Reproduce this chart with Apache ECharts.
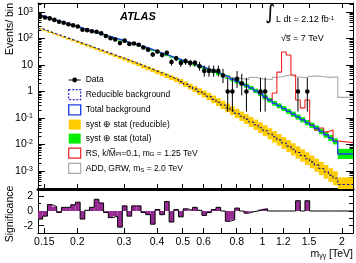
<!DOCTYPE html>
<html>
<head>
<meta charset="utf-8">
<script src="https://cdn.jsdelivr.net/npm/echarts@6/dist/echarts.min.js"></script>
<style>
  html, body { margin: 0; padding: 0; background: #fff; }
  #main { width: 356px; height: 263px; }
</style>
</head>
<body>
<div id="main"></div>
<script>
// bin edges of m_yy in TeV
var binEdges = [0.142, 0.1479, 0.1541, 0.1605, 0.1671, 0.1741, 0.1813, 0.1889, 0.1967, 0.2049,
  0.2134, 0.2223, 0.2316, 0.2412, 0.2512, 0.2617, 0.2725, 0.2839, 0.2957, 0.308,
  0.3208, 0.3341, 0.348, 0.3625, 0.3776, 0.3933, 0.4096, 0.4267, 0.4444, 0.4629,
  0.4821, 0.5022, 0.5231, 0.5448, 0.5675, 0.5911, 0.6157, 0.6413, 0.668, 0.6957,
  0.7247, 0.7548, 0.7862, 0.8189, 0.8529, 0.8884, 0.9254, 0.9638, 1.0039, 1.0457,
  1.0892, 1.1345, 1.1816, 1.2308, 1.282, 1.3353, 1.3908, 1.4486, 1.5089, 1.5716,
  1.637, 1.7051, 1.776, 1.8499, 1.9268, 2.2];

// observed events per bin
var dataCounts = [695, 619, 574, 504, 427, 391, 347, 314, 285, 215,
  207, 189, 181, 156, 124, 102, 92, 67, 83, 62,
  65, 58, 46, 38, 25, 32, 24, 29, 13, 18,
  12, 14, 12, 12, 9, 6, 6, 6, 6, 4,
  1, 1, 3, 2, 1, 0, 0, 1, 1, 0,
  0, 0, 0, 0, 0, 1, 0, 1, 0, 0,
  0, 0, 0, 0, 0];

var totalBkg = [725, 637, 554, 491, 431, 381, 338, 299, 265, 232,
  206, 182, 161, 143, 126, 112, 99, 88, 77, 68,
  60, 53, 47, 41, 35.6, 30.7, 26.5, 23.0, 19.9, 17.3,
  15.0, 13.1, 11.7, 10.2, 8.8, 7.6, 6.6, 5.6, 4.8, 4.05,
  3.47, 2.88, 2.40, 2.00, 1.67, 1.36, 1.05, 0.82, 0.61, 0.466,
  0.356, 0.286, 0.226, 0.177, 0.139, 0.109, 0.0855, 0.067, 0.0526, 0.0409,
  0.031, 0.0232, 0.0175, 0.0131, 0.0044];

var reducibleBkg = [232, 200, 173, 149, 130, 112, 96.6, 84.1, 72.5, 62.6,
  54.0, 46.6, 40.2, 34.7, 29.9, 25.8, 22.2, 19.2, 16.6, 14.2,
  12.1, 10.4, 8.77, 7.50, 6.37, 5.40, 4.61, 3.91, 3.32, 2.81,
  2.36, 1.90, 1.53, 1.23, 0.99, 0.80, 0.643, 0.504, 0.395, 0.310,
  0.241, 0.188, 0.148, 0.116, 0.0908, 0.0706, 0.0553, 0.0430, 0.0332, 0.0254,
  0.0195, 0.0149, 0.0114, 0.0087, 0.0066, 0.0050, 0.00385, 0.00291, 0.00220, 0.00166,
  0.00124, 0.00093, 0.00070, 0.00053, 0.00031];

// relative syst+stat uncertainties
var reducibleErr = [0.06, 0.06, 0.07, 0.07, 0.07, 0.08, 0.08, 0.08, 0.09, 0.09,
  0.09, 0.10, 0.10, 0.11, 0.11, 0.12, 0.12, 0.13, 0.13, 0.14,
  0.15, 0.16, 0.17, 0.18, 0.19, 0.20, 0.21, 0.22, 0.23, 0.24,
  0.25, 0.27, 0.29, 0.31, 0.33, 0.35, 0.37, 0.39, 0.41, 0.43,
  0.45, 0.47, 0.49, 0.51, 0.53, 0.55, 0.57, 0.59, 0.61, 0.62,
  0.64, 0.66, 0.67, 0.69, 0.70, 0.71, 0.72, 0.73, 0.74, 0.76,
  0.78, 0.80, 0.82, 0.84, 0.86];

var totalErr = [0.03, 0.03, 0.03, 0.03, 0.03, 0.03, 0.03, 0.035, 0.035, 0.035,
  0.04, 0.04, 0.04, 0.04, 0.045, 0.045, 0.045, 0.05, 0.05, 0.05,
  0.055, 0.055, 0.06, 0.06, 0.065, 0.065, 0.07, 0.07, 0.075, 0.08,
  0.085, 0.09, 0.095, 0.10, 0.11, 0.12, 0.13, 0.14, 0.15, 0.16,
  0.17, 0.18, 0.19, 0.19, 0.20, 0.20, 0.21, 0.21, 0.22, 0.22,
  0.23, 0.23, 0.24, 0.24, 0.25, 0.25, 0.26, 0.26, 0.27, 0.27,
  0.28, 0.29, 0.30, 0.30, 0.55];

// RS graviton (signal + background), from bin 49
var rsStart = 49;
var rsTotal = [0.466, 0.88, 5.4, 31, 23.9, 4.2, 0.48, 0.24, 0.48, 0.054,
  0.035, 0.042, 0.030, 0.035, 0.0135, 0.0118];

// ADD GRW (signal + background), from bin 40
var addStart = 40;
var addTotal = [3.5, 3.3, 3.2, 3.0, 2.8, 3.4, 3.3, 3.0, 2.9, 2.8,
  3.4, 3.6, 3.9, 4.2, 3.6, 3.5, 3.3, 3.7, 3.8, 3.8,
  3.6, 3.4, 3.5, 3.5, 0.6];

var significance = [-1.1, -0.7, 0.87, 0.6, -0.2, 0.5, 0.5, 0.85, 1.2, -1.1,
  0.1, 0.5, 1.6, 1.1, -0.2, -0.9, -0.7, -2.2, 0.7, -0.7,
  0.7, 0.7, -0.2, -0.5, -1.8, 0.2, -0.5, 1.3, -1.5, 0.2,
  -0.8, 0.3, 0.1, 0.5, 0.1, -0.6, -0.2, 0.2, 0.5, 0,
  -1.4, -1.2, 0.4, 0, -0.3, -0.1, 0, 0.2, 0.3, 0,
  0, 0, 0, 0, 0, 1.4, 0, 1.4, 0, 0,
  0, 0, 0, 0, 0];

var massLabels = [0.15, 0.2, 0.3, 0.4, 0.5, 0.6, 0.8, 1, 1.2, 1.5, 2];
var massTicks = [0.15, 0.2, 0.3, 0.4, 0.5, 0.6, 0.7, 0.8, 0.9, 1, 1.2, 1.5, 2];
var decades = [-3, -2, -1, 0, 1, 2, 3];

// poisson 68% intervals for small counts
var poissonLo = [0, 0.173, 0.708, 1.367, 2.086, 2.840, 3.620, 4.419, 5.232, 6.057];
var poissonHi = [1.841, 3.300, 4.638, 5.918, 7.163, 8.382, 9.584, 10.77, 11.95, 13.11];

var LG = function (v) { return Math.log10(v); };
var xMin = LG(0.142), xMax = LG(2.2);
var yMin = -3.68, yMax = 3.34;
var FONT = 'Liberation Sans, Arial, Helvetica, sans-serif';

var minorY = [];
for (var d = -4; d <= 3; d++) {
  for (var k = 2; k <= 9; k++) {
    var t = d + LG(k);
    if (t > yMin && t < yMax) minorY.push(t);
  }
}

function steps(vals, first) {
  var pts = [];
  for (var i = 0; i < vals.length; i++) pts.push([LG(binEdges[first + i]), LG(vals[i])]);
  pts.push([LG(binEdges[first + vals.length]), LG(vals[vals.length - 1])]);
  return pts;
}
function band(vals, rel) {
  return vals.map(function (v, i) {
    return [LG(binEdges[i]), LG(binEdges[i + 1]), LG(v / (1 + rel[i])), LG(v * (1 + rel[i]))];
  });
}
var dataPts = [];
dataCounts.forEach(function (n, i) {
  if (n <= 0) return;
  var xc = (LG(binEdges[i]) + LG(binEdges[i + 1])) / 2;
  var lo, hi;
  if (n < poissonLo.length) { lo = poissonLo[n]; hi = poissonHi[n]; }
  else { lo = n - Math.sqrt(n); hi = n + Math.sqrt(n); }
  dataPts.push([xc, LG(n), LG(lo), LG(hi)]);
});
var sigRects = significance.map(function (s, i) {
  return [LG(binEdges[i]), LG(binEdges[i + 1]), Math.min(0, s), Math.max(0, s)];
});
var sigLine = [];
significance.forEach(function (s, i) { sigLine.push([LG(binEdges[i]), s]); });
sigLine.push([LG(binEdges[binEdges.length - 1]), significance[significance.length - 1]]);

function rectItem(color) {
  return function (params, api) {
    var p0 = api.coord([api.value(0), api.value(3)]);
    var p1 = api.coord([api.value(1), api.value(2)]);
    return {
      type: 'rect',
      shape: { x: p0[0], y: p0[1], width: p1[0] - p0[0], height: p1[1] - p0[1] },
      style: { fill: color }
    };
  };
}

function xAxisCfg(grid, pos, width, labels) {
  return {
    gridIndex: grid, type: 'value', min: xMin, max: xMax, position: pos,
    axisLine: { onZero: false, lineStyle: { color: '#000', width: width } },
    axisTick: { inside: true, length: 5, customValues: massTicks.map(LG), lineStyle: { color: '#000' } },
    axisLabel: labels ? {
      customValues: massLabels.map(LG), margin: 4, color: '#000', fontSize: 10.5, fontFamily: FONT,
      formatter: function (v) { return String(parseFloat(Math.pow(10, v).toPrecision(3))); }
    } : { show: false },
    splitLine: { show: false }
  };
}
function yAxisCfg(grid, pos, min, max, ticks, len, labels, line) {
  return {
    gridIndex: grid, type: 'value', min: min, max: max, position: pos,
    axisLine: { show: line, onZero: false, lineStyle: { color: '#000', width: 1 } },
    axisTick: { inside: true, length: len, customValues: ticks, lineStyle: { color: '#000' } },
    axisLabel: labels || { show: false },
    splitLine: { show: false }
  };
}

var logLabel = {
  customValues: decades, margin: 5, color: '#000', fontFamily: FONT,
  formatter: function (v) {
    var e = Math.round(v);
    if (e === 0) return '{b|1}';
    if (e === 1) return '{b|10}';
    return '{b|10}{s|' + e + '}';
  },
  rich: {
    b: { fontSize: 10.5, fontFamily: FONT, color: '#000' },
    s: { fontSize: 7, fontFamily: FONT, color: '#000', verticalAlign: 'top' }
  }
};
var sigLabel = { customValues: [-2, 0, 2], margin: 5, color: '#000', fontSize: 10.5, fontFamily: FONT };

var legendText = {
  'Data': '{t|Data}',
  'Reducible background': '{t|Reducible background}',
  'Total background': '{t|Total background}',
  'syst ⊕ stat (reducible)': '{t|syst ⊕ stat (reducible)}',
  'syst ⊕ stat (total)': '{t|syst ⊕ stat (total)}',
  'RS': '{t|RS, k/M\u0305}{sub|Pl}{t|=0.1, m}{sub|G}{t| = 1.25 TeV}',
  'ADD': '{t|ADD, GRW, m}{sub|S}{t| = 2.0 TeV}'
};

var chart = echarts.init(document.getElementById('main'));
chart.setOption({
  animation: false,
  backgroundColor: '#fff',
  grid: [
    { left: 38, top: 3, width: 315, height: 186 },
    { left: 38, top: 189, width: 315, height: 44 }
  ],
  xAxis: [
    xAxisCfg(0, 'bottom', 3, false),
    xAxisCfg(0, 'top', 1, false),
    xAxisCfg(1, 'bottom', 1, true)
  ],
  yAxis: [
    yAxisCfg(0, 'left', yMin, yMax, decades, 7, logLabel, true),
    yAxisCfg(0, 'left', yMin, yMax, minorY, 3.5, null, false),
    yAxisCfg(0, 'right', yMin, yMax, decades, 7, null, true),
    yAxisCfg(0, 'right', yMin, yMax, minorY, 3.5, null, false),
    yAxisCfg(1, 'left', -3, 3, [-2, 0, 2], 6, sigLabel, true),
    yAxisCfg(1, 'left', -3, 3, [-3, -1, 1, 3], 3, null, false),
    yAxisCfg(1, 'right', -3, 3, [-2, -1, 0, 1, 2], 4, null, true)
  ],
  legend: {
    orient: 'vertical', left: 68, top: 75, itemWidth: 12, itemHeight: 10, itemGap: 4,
    selectedMode: false, padding: 0,
    formatter: function (name) { return legendText[name]; },
    textStyle: {
      color: '#000', fontFamily: FONT, fontSize: 8.5,
      rich: {
        t: { fontSize: 8.5, fontFamily: FONT, color: '#000' },
        sub: { fontSize: 6, fontFamily: FONT, color: '#000', verticalAlign: 'bottom' }
      }
    },
    data: [
      { name: 'Data', icon: 'path://M0,0h0.01v0.01h-0.01z M11.99,9.99h0.01v0.01h-0.01z M0,4.5h12v1h-12z M8.4,5a2.4,2.4 0 1,1 -4.8,0a2.4,2.4 0 1,1 4.8,0z', itemStyle: { color: '#000', borderWidth: 0 } },
      { name: 'Reducible background', icon: 'rect', itemStyle: { color: '#fff', borderColor: '#2b2bd0', borderWidth: 1.2, borderType: [2, 1.5] } },
      { name: 'Total background', icon: 'rect', itemStyle: { color: '#fff', borderColor: '#1f3fe8', borderWidth: 1.4 } },
      { name: 'syst ⊕ stat (reducible)', icon: 'rect', itemStyle: { color: '#ffcc00', borderWidth: 0 } },
      { name: 'syst ⊕ stat (total)', icon: 'rect', itemStyle: { color: '#00ee00', borderWidth: 0 } },
      { name: 'RS', icon: 'rect', itemStyle: { color: '#fff', borderColor: '#ee2222', borderWidth: 1.2 } },
      { name: 'ADD', icon: 'rect', itemStyle: { color: '#fff', borderColor: '#aaaaaa', borderWidth: 1.2 } }
    ]
  },
  graphic: [
    { type: 'text', left: 120, top: 11, style: { text: 'ATLAS', font: 'italic bold 11px ' + FONT, fill: '#000' } },
    { type: 'text', left: 265, top: 4, style: { text: '∫', font: '20px DejaVu Sans', fill: '#000' } },
    { type: 'text', left: 276, top: 15, style: { text: '{a|L dt = 2.12 fb}{s|-1}', rich: { a: { fontSize: 9, fontFamily: FONT, fill: '#000' }, s: { fontSize: 6, fontFamily: FONT, fill: '#000', verticalAlign: 'top' } } } },
    { type: 'text', left: 281, top: 34, style: { text: '√s\u0305 = 7 TeV', font: '9px ' + FONT, fill: '#000' } },
    { type: 'text', right: 3, top: 249, style: { text: '{a|m}{s|γγ}{a| [TeV]}', rich: { a: { fontSize: 10.5, fontFamily: FONT, fill: '#000' }, s: { fontSize: 7, fontFamily: FONT, fill: '#000', verticalAlign: 'bottom' } } } },
    { type: 'text', x: 5, y: 29, rotation: Math.PI / 2, style: { text: 'Events/ bin', font: '10.5px ' + FONT, fill: '#000', align: 'center', verticalAlign: 'top' } },
    { type: 'text', x: 5, y: 214, rotation: Math.PI / 2, style: { text: 'Significance', font: '10.5px ' + FONT, fill: '#000', align: 'center', verticalAlign: 'top' } }
  ],
  series: [
    {
      name: 'syst ⊕ stat (reducible)', type: 'custom', xAxisIndex: 0, yAxisIndex: 0, clip: true, silent: true,
      itemStyle: { color: '#ffcc00' }, renderItem: rectItem('#ffcc00'),
      encode: { x: [0, 1], y: [2, 3] }, data: band(reducibleBkg, reducibleErr), z: 1
    },
    {
      name: 'syst ⊕ stat (total)', type: 'custom', xAxisIndex: 0, yAxisIndex: 0, clip: true, silent: true,
      itemStyle: { color: '#00ee00' }, renderItem: rectItem('#00ee00'),
      encode: { x: [0, 1], y: [2, 3] }, data: band(totalBkg, totalErr), z: 1
    },
    {
      name: 'Reducible background', type: 'line', xAxisIndex: 0, yAxisIndex: 0, step: 'end', symbol: 'none', silent: true,
      lineStyle: { color: '#1a1a70', width: 1.1, type: [2.5, 2] }, itemStyle: { color: '#1a1a70' },
      data: steps(reducibleBkg, 0), z: 2
    },
    {
      name: 'ADD', type: 'line', xAxisIndex: 0, yAxisIndex: 0, step: 'end', symbol: 'none', silent: true,
      lineStyle: { color: '#aaaaaa', width: 1.1 }, itemStyle: { color: '#aaaaaa' },
      data: steps(addTotal, addStart), z: 2
    },
    {
      name: 'RS', type: 'line', xAxisIndex: 0, yAxisIndex: 0, step: 'end', symbol: 'none', silent: true,
      lineStyle: { color: '#ee2222', width: 1.1 }, itemStyle: { color: '#ee2222' },
      data: steps(rsTotal, rsStart), z: 3
    },
    {
      name: 'Total background', type: 'line', xAxisIndex: 0, yAxisIndex: 0, step: 'end', symbol: 'none', silent: true,
      lineStyle: { color: '#1f3fe8', width: 1.4 }, itemStyle: { color: '#1f3fe8' },
      data: steps(totalBkg, 0), z: 4
    },
    {
      name: 'Data', type: 'custom', xAxisIndex: 0, yAxisIndex: 0, clip: true, silent: true,
      itemStyle: { color: '#000' }, encode: { x: 0, y: [1, 2, 3] }, data: dataPts, z: 5,
      renderItem: function (params, api) {
        var c = api.coord([api.value(0), api.value(1)]);
        var lo = api.coord([api.value(0), api.value(2)]);
        var hi = api.coord([api.value(0), api.value(3)]);
        return {
          type: 'group', children: [
            { type: 'line', shape: { x1: c[0], y1: lo[1], x2: c[0], y2: hi[1] }, style: { stroke: '#000', lineWidth: 1 } },
            { type: 'circle', shape: { cx: c[0], cy: c[1], r: 2.3 }, style: { fill: '#000' } }
          ]
        };
      }
    },
    {
      name: 'sigFill', type: 'custom', xAxisIndex: 2, yAxisIndex: 4, clip: true, silent: true,
      renderItem: rectItem('#962a92'), encode: { x: [0, 1], y: [2, 3] }, data: sigRects, z: 1
    },
    {
      name: 'sigLine', type: 'line', xAxisIndex: 2, yAxisIndex: 4, step: 'end', symbol: 'none', silent: true,
      lineStyle: { color: '#000', width: 1 }, data: sigLine, z: 2
    }
  ]
});
</script>
</body>
</html>
